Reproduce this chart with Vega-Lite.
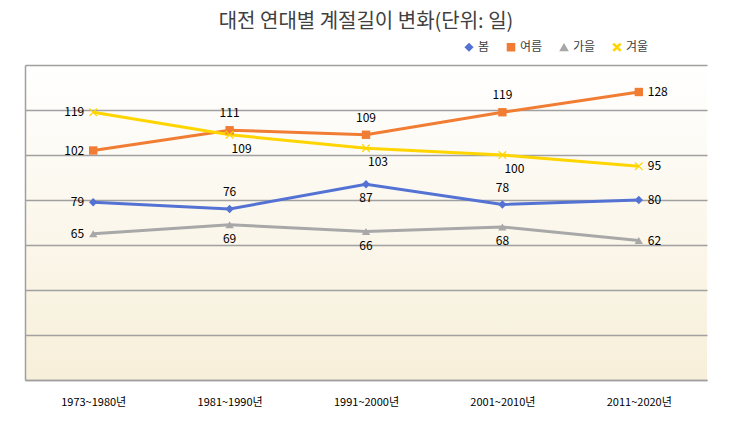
{
  "$schema": "https://vega.github.io/schema/vega-lite/v6.json",
  "width": 682,
  "height": 315,
  "autosize": {"type": "none"},
  "padding": {"left": 25, "top": 65, "right": 23, "bottom": 65},
  "background": "#ffffff",
  "title": {
    "text": "대전 연대별 계절길이 변화(단위: 일)",
    "font": "Noto Sans CJK KR",
    "fontSize": 20,
    "fontWeight": "normal",
    "color": "#404040",
    "anchor": "middle",
    "offset": 9
  },
  "config": {
    "view": {
      "stroke": null,
      "fill": {
        "gradient": "linear",
        "x1": 0, "y1": 0, "x2": 0, "y2": 1,
        "stops": [
          {"offset": 0, "color": "#ffffff"},
          {"offset": 1, "color": "#f7efd9"}
        ]
      }
    },
    "font": "Noto Sans CJK KR"
  },
  "data": {
    "values": [
      {"period": "1973~1980년", "season": "봄", "days": 79},
      {"period": "1981~1990년", "season": "봄", "days": 76},
      {"period": "1991~2000년", "season": "봄", "days": 87},
      {"period": "2001~2010년", "season": "봄", "days": 78},
      {"period": "2011~2020년", "season": "봄", "days": 80},
      {"period": "1973~1980년", "season": "여름", "days": 102},
      {"period": "1981~1990년", "season": "여름", "days": 111},
      {"period": "1991~2000년", "season": "여름", "days": 109},
      {"period": "2001~2010년", "season": "여름", "days": 119},
      {"period": "2011~2020년", "season": "여름", "days": 128},
      {"period": "1973~1980년", "season": "가을", "days": 65},
      {"period": "1981~1990년", "season": "가을", "days": 69},
      {"period": "1991~2000년", "season": "가을", "days": 66},
      {"period": "2001~2010년", "season": "가을", "days": 68},
      {"period": "2011~2020년", "season": "가을", "days": 62},
      {"period": "1973~1980년", "season": "겨울", "days": 119},
      {"period": "1981~1990년", "season": "겨울", "days": 109},
      {"period": "1991~2000년", "season": "겨울", "days": 103},
      {"period": "2001~2010년", "season": "겨울", "days": 100},
      {"period": "2011~2020년", "season": "겨울", "days": 95}
    ]
  },
  "encoding": {
    "x": {
      "field": "period",
      "type": "nominal",
      "sort": null,
      "scale": {"type": "point", "padding": 0.5},
      "axis": {
        "title": null,
        "labelAngle": 0,
        "ticks": false,
        "domain": true,
        "domainColor": "#a0a0a0",
        "domainWidth": 1.5,
        "labelPadding": 16,
        "labelFontSize": 11,
        "labelColor": "#000000",
        "labelFont": "Noto Sans CJK KR",
        "grid": false
      }
    },
    "y": {
      "field": "days",
      "type": "quantitative",
      "scale": {"domain": [0, 140], "nice": false},
      "axis": {
        "title": null,
        "labels": false,
        "ticks": false,
        "domain": true,
        "domainColor": "#a0a0a0",
        "domainWidth": 1.5,
        "values": [0, 20, 40, 60, 80, 100, 120, 140],
        "grid": true,
        "gridColor": "#a0a0a0",
        "gridWidth": 1.5
      }
    },
    "color": {
      "field": "season",
      "type": "nominal",
      "scale": {
        "domain": ["봄", "여름", "가을", "겨울"],
        "range": ["#5472d3", "#f07d33", "#a8a8a8", "#ffd500"]
      },
      "legend": {
        "title": null,
        "orient": "none",
        "direction": "horizontal",
        "legendX": 438,
        "legendY": -24,
        "labelFontSize": 12,
        "labelColor": "#404040",
        "labelFont": "Noto Sans CJK KR",
        "symbolSize": 50,
        "columnPadding": 14,
        "labelOffset": 3
      }
    }
  },
  "layer": [
    {
      "mark": {"type": "line", "strokeWidth": 3},
      "encoding": {}
    },
    {
      "mark": {"type": "point", "filled": true, "opacity": 1},
      "encoding": {
        "shape": {
          "field": "season",
          "type": "nominal",
          "scale": {
            "domain": ["봄", "여름", "가을", "겨울"],
            "range": ["diamond", "square", "triangle-up", "M-1,-0.8L-0.8,-1L0,-0.2L0.8,-1L1,-0.8L0.2,0L1,0.8L0.8,1L0,0.2L-0.8,1L-1,0.8L-0.2,0Z"]
          },
          "legend": null
        },
        "size": {"value": 70}
      }
    },
    {
      "transform": [{"filter": "datum.period == '1973~1980년'"}],
      "mark": {"type": "text", "align": "right", "baseline": "middle", "dx": -9, "fontSize": 12},
      "encoding": {"text": {"field": "days"}, "color": {"value": "#000000"}}
    },
    {
      "transform": [{"filter": "datum.period == '2011~2020년'"}],
      "mark": {"type": "text", "align": "left", "baseline": "middle", "dx": 9, "fontSize": 12},
      "encoding": {"text": {"field": "days"}, "color": {"value": "#000000"}}
    },
    {
      "transform": [{"filter": "datum.period != '1973~1980년' && datum.period != '2011~2020년' && (datum.season == '여름' || (datum.season == '봄' && datum.period != '1991~2000년'))"}],
      "mark": {"type": "text", "align": "center", "baseline": "middle", "dy": -17, "fontSize": 12},
      "encoding": {"text": {"field": "days"}, "color": {"value": "#000000"}}
    },
    {
      "transform": [{"filter": "datum.period != '1973~1980년' && datum.period != '2011~2020년' && (datum.season == '가을' || (datum.season == '봄' && datum.period == '1991~2000년'))"}],
      "mark": {"type": "text", "align": "center", "baseline": "middle", "dy": 14, "fontSize": 12},
      "encoding": {"text": {"field": "days"}, "color": {"value": "#000000"}}
    },
    {
      "transform": [{"filter": "datum.period != '1973~1980년' && datum.period != '2011~2020년' && datum.season == '겨울'"}],
      "mark": {"type": "text", "align": "center", "baseline": "middle", "dy": 14, "dx": 12, "fontSize": 12},
      "encoding": {"text": {"field": "days"}, "color": {"value": "#000000"}}
    }
  ]
}
